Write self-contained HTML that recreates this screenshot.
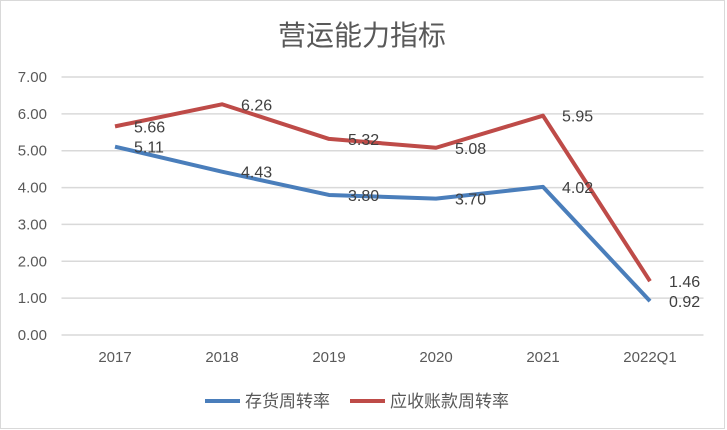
<!DOCTYPE html>
<html><head><meta charset="utf-8"><style>
body{margin:0;background:#fff}
svg{display:block;font-family:"Liberation Sans","Noto Sans CJK SC",sans-serif}
</style></head><body>
<svg width="727" height="430">
<rect x="0.5" y="0.5" width="724" height="428" fill="#fff" stroke="#d9d9d9"/>
<text x="362" y="45" text-anchor="middle" font-size="28" fill="#595959">营运能力指标</text>
<g id="grid"></g><g id="series"></g>
<g>
<line x1="205" y1="401" x2="240" y2="401" stroke="#4a7ebb" stroke-width="4"/>
<text x="245" y="407" font-size="17" fill="#595959">存货周转率</text>
<line x1="350" y1="401" x2="385" y2="401" stroke="#be4b48" stroke-width="4"/>
<text x="390" y="407" font-size="17" fill="#595959">应收账款周转率</text>
</g>
</svg>
<script>
const categories=["2017","2018","2019","2020","2021","2022Q1"];
const inventory=[5.11,4.43,3.80,3.70,4.02,0.92];
const receivables=[5.66,6.26,5.32,5.08,5.95,1.46];
const yTicks=[0,1,2,3,4,5,6,7];
const NS="http://www.w3.org/2000/svg";
const L=61.5,R=703.5,Y0=335,Y7=77;
const xs=i=>L+(i+0.5)*(R-L)/categories.length;
const ys=v=>Y0-(Y0-Y7)*v/7;
function mk(t,a,p){const e=document.createElementNS(NS,t);for(const k in a)e.setAttribute(k,a[k]);p.appendChild(e);return e;}
const g=document.getElementById('grid');
yTicks.forEach(v=>{
 const l=mk('line',{x1:L,x2:R,y1:ys(v),y2:ys(v),stroke:'#d9d9d9','stroke-width':1.5},g);
 
 
 const t=mk('text',{x:47,y:ys(v)+5,'text-anchor':'end','font-size':15,fill:'#595959'},g);
 t.textContent=v.toFixed(2);
 
 
});
categories.forEach((c,i)=>{
 const t=mk('text',{x:xs(i),y:362,'text-anchor':'middle','font-size':15,fill:'#595959'},g);
 t.textContent=c;
 
 
});
const s=document.getElementById('series');
function draw(vals,color,name){
 const p=mk('polyline',{points:vals.map((v,i)=>xs(i)+','+ys(v)).join(' '),fill:'none',stroke:color,'stroke-width':4,'stroke-linejoin':'round'},s);
 
 
 vals.forEach((v,i)=>{
  const t=mk('text',{x:xs(i)+19,y:ys(v)+6,'font-size':16,fill:'#404040'},s);
  t.textContent=v.toFixed(2);
  
  
 });
}
draw(receivables,'#be4b48','receivables');
draw(inventory,'#4a7ebb','inventory');
</script>
</body></html>
